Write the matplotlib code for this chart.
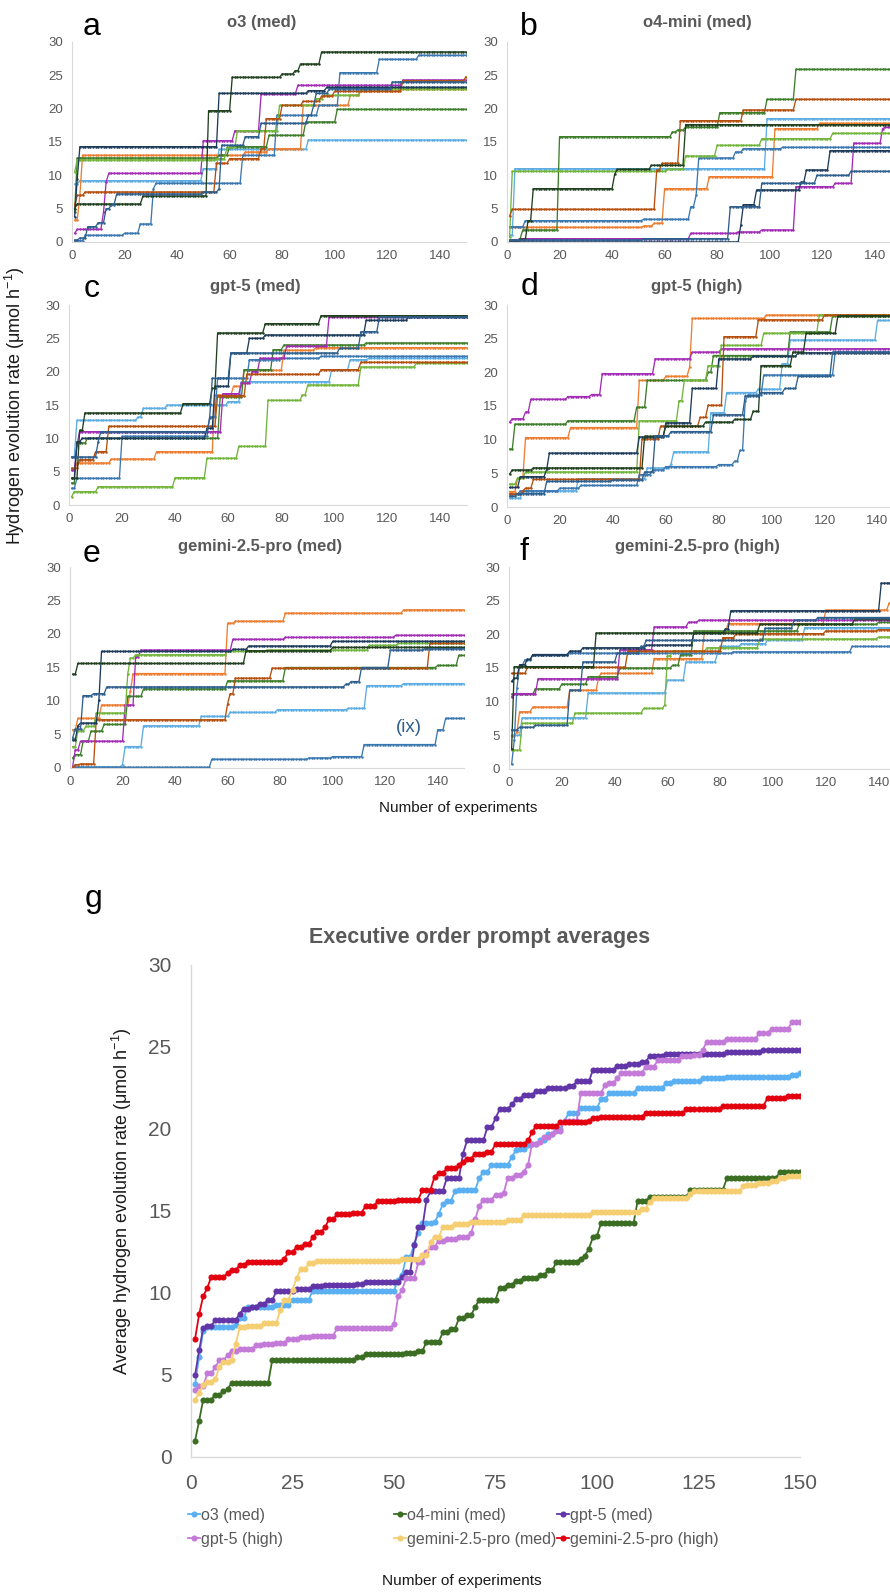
import numpy as np
import matplotlib
matplotlib.use('Agg')
import matplotlib.pyplot as plt
from matplotlib import font_manager as fm

plt.rcParams['font.family'] = ['Liberation Sans', 'DejaVu Sans']
plt.rcParams['mathtext.fontset'] = 'custom'
plt.rcParams['mathtext.rm'] = 'Liberation Sans'
plt.rcParams['mathtext.it'] = 'Liberation Sans:italic'

# ---------------- data: best-so-far breakpoints (experiment, value) ----------------
N_EXP = 150
panel_titles = ['o3 (med)', 'o4-mini (med)', 'gpt-5 (med)', 'gpt-5 (high)',
                'gemini-2.5-pro (med)', 'gemini-2.5-pro (high)']
panel_letters = ['a', 'b', 'c', 'd', 'e', 'f']
run_colors = ['#5DADE2', '#ED7D31', '#3E7D2A', '#3C78B0', '#A22DB5',
              '#72B43C', '#B4500F', '#1D3B5A', '#20401F', '#2F5F8C']

panel_a = [
    [(1, 8.7), (3, 9.2), (50, 11.0), (56, 13.9), (90, 15.3)],
    [(1, 3.3), (3, 7.0), (4, 13.0), (66, 13.5), (75, 14.0), (88, 20.5), (106, 22.0), (110, 22.6), (125, 22.9)],
    [(1, 4.5), (2, 12.6), (56, 13.0), (60, 14.3), (75, 16.0), (89, 18.0), (101, 19.9)],
    [(1, 0.2), (5, 1.0), (20, 1.3), (26, 2.7), (31, 8.0), (32, 8.8), (65, 13.0), (78, 19.0), (94, 20.5), (102, 25.4), (117, 27.4), (132, 28.0)],
    [(1, 1.3), (2, 1.9), (12, 4.5), (13, 9.0), (14, 10.3), (50, 15.2), (62, 16.7), (72, 22.2), (86, 23.5), (126, 24.3)],
    [(1, 10.5), (2, 12.3), (55, 12.5), (59, 14.2), (63, 16.7), (79, 20.5), (93, 21.5), (96, 22.0), (110, 23.0)],
    [(1, 5.5), (2, 7.0), (5, 7.5), (55, 11.8), (60, 12.5), (72, 14.0), (74, 18.5), (80, 20.5), (88, 21.1), (95, 21.9), (100, 22.6), (126, 24.2), (150, 24.8)],
    [(1, 3.8), (2, 9.5), (3, 14.3), (56, 22.3), (90, 22.7), (97, 23.2)],
    [(1, 5.0), (2, 5.7), (27, 6.9), (52, 19.7), (61, 24.7), (80, 25.2), (85, 25.7), (87, 26.7), (95, 28.5)],
    [(1, 0.3), (3, 0.6), (6, 2.3), (10, 2.9), (13, 5.0), (15, 5.6), (17, 7.2), (50, 7.5), (56, 8.0), (57, 14.5), (66, 15.8), (72, 17.8), (90, 19.0), (92, 20.5), (93, 22.3), (98, 23.0), (122, 24.0)],
]
panel_b = [
    [(1, 1.0), (3, 11.0), (99, 18.5)],
    [(1, 2.2), (52, 2.4), (56, 2.8), (60, 8.0), (77, 9.8), (102, 17.0), (119, 17.8)],
    [(1, 0.3), (5, 0.5), (6, 1.8), (20, 15.8), (63, 16.5), (65, 16.8), (68, 17.2), (81, 19.4), (99, 21.4), (110, 25.9)],
    [(1, 2.3), (7, 3.2), (52, 3.4), (70, 5.3), (72, 7.0), (73, 12.6), (87, 13.5), (90, 14.0), (105, 14.2)],
    [(1, 0.0), (2, 0.3), (5, 0.5), (70, 1.3), (88, 1.5), (97, 1.8), (110, 8.3), (125, 8.8), (132, 14.8), (143, 17.0), (144, 17.2)],
    [(1, 0.7), (2, 10.6), (61, 10.9), (68, 12.9), (80, 14.5), (97, 15.5), (124, 16.3)],
    [(1, 3.9), (2, 4.9), (57, 10.8), (59, 11.8), (66, 18.2), (90, 19.8), (110, 21.4)],
    [(1, 0.0), (89, 2.5), (90, 5.6), (95, 7.8), (112, 9.0), (114, 10.8), (123, 13.7)],
    [(1, 0.0), (5, 0.4), (8, 3.2), (10, 8.0), (41, 10.2), (42, 10.9), (55, 11.5), (68, 17.6)],
    [(1, 0.3), (52, 0.5), (85, 5.3), (97, 8.8), (118, 10.0), (131, 10.6)],
]
panel_c = [
    [(1, 7.2), (3, 12.7), (26, 13.2), (28, 14.5), (37, 15.0), (60, 15.5), (65, 18.5), (99, 20.3), (106, 21.8), (113, 22.0)],
    [(1, 5.2), (3, 6.3), (16, 6.9), (33, 8.0), (55, 16.5), (62, 17.8), (66, 20.2), (81, 23.2), (93, 23.6)],
    [(1, 3.3), (3, 9.3), (7, 10.0), (57, 16.2), (66, 20.3), (77, 23.3), (81, 24.0), (112, 24.3)],
    [(1, 2.5), (3, 4.0), (20, 10.3), (53, 13.2), (56, 19.0), (68, 21.8), (80, 22.0), (95, 22.3)],
    [(1, 5.2), (3, 9.0), (4, 11.0), (58, 16.7), (65, 18.3), (69, 20.0), (72, 22.0), (82, 23.8), (98, 28.2)],
    [(1, 1.25), (2, 2.0), (11, 2.75), (40, 4.1), (52, 7.0), (64, 8.8), (75, 15.7), (88, 16.5), (90, 18.0), (110, 20.7), (131, 21.3)],
    [(1, 5.5), (4, 6.8), (10, 8.0), (15, 11.8), (56, 16.4), (67, 19.6), (95, 20.3), (110, 21.4)],
    [(1, 4.0), (3, 9.5), (5, 10.0), (52, 11.5), (55, 17.8), (61, 22.8), (68, 25.0), (74, 25.5), (112, 27.7), (128, 28.2)],
    [(1, 4.0), (4, 11.2), (6, 13.8), (43, 15.2), (54, 17.5), (56, 25.8), (74, 27.2), (95, 28.4)],
    [(1, 7.2), (11, 9.5), (12, 11.0), (53, 13.0), (54, 19.0), (61, 22.8), (102, 23.5), (110, 26.0), (117, 28.2)],
]
panel_d = [
    [(1, 1.3), (6, 2.4), (27, 4.2), (53, 5.8), (62, 6.4), (63, 8.2), (77, 14.0), (83, 17.0), (95, 17.5), (104, 21.3), (107, 24.8), (140, 27.7)],
    [(1, 2.3), (4, 4.3), (7, 10.3), (24, 11.8), (50, 18.8), (60, 19.4), (69, 20.8), (70, 28.0), (98, 28.5)],
    [(1, 8.6), (3, 12.3), (23, 12.8), (49, 14.8), (53, 18.8), (76, 20.0), (78, 22.5), (107, 26.0), (123, 28.4)],
    [(1, 1.9), (5, 2.4), (20, 2.8), (28, 3.2), (50, 4.8), (55, 5.5), (60, 6.0), (80, 6.3), (86, 6.8), (88, 8.4), (90, 15.7), (91, 16.6), (97, 19.6), (124, 23.0)],
    [(1, 12.6), (2, 13.1), (7, 14.1), (9, 16.0), (23, 16.4), (32, 16.7), (36, 19.8), (56, 22.0), (70, 23.0), (81, 23.5)],
    [(1, 3.4), (4, 4.3), (7, 5.2), (50, 12.8), (65, 15.8), (67, 18.8), (76, 21.0), (81, 24.0), (97, 25.8), (118, 28.5)],
    [(1, 1.9), (6, 2.4), (7, 2.8), (10, 4.1), (51, 10.1), (58, 12.0), (73, 13.3), (76, 15.1), (82, 25.3), (95, 27.8), (120, 28.5)],
    [(1, 2.9), (5, 4.5), (15, 5.6), (16, 8.0), (50, 10.4), (60, 12.5), (70, 17.6), (80, 22.0), (93, 22.4), (110, 22.9)],
    [(1, 4.9), (2, 5.5), (10, 5.8), (52, 10.5), (60, 12.0), (75, 12.6), (86, 13.0), (93, 14.2), (96, 21.0), (108, 23.0), (113, 25.8), (125, 28.4)],
    [(1, 1.6), (4, 2.0), (15, 3.8), (40, 4.0), (52, 5.2), (56, 10.6), (62, 11.2), (78, 13.7), (90, 16.5), (96, 17.0), (105, 17.6), (110, 19.4), (123, 23.0)],
]
panel_e = [
    [(1, 0.15), (20, 0.5), (21, 3.2), (28, 6.3), (50, 7.7), (61, 8.3), (79, 8.7), (106, 8.9), (113, 12.3), (127, 12.6)],
    [(1, 5.7), (3, 7.4), (12, 9.4), (23, 11.5), (24, 14.1), (60, 21.6), (63, 21.9), (82, 23.1), (127, 23.6)],
    [(1, 1.5), (2, 2.0), (5, 4.0), (8, 5.5), (13, 6.5), (22, 10.7), (28, 11.8), (60, 13.0), (82, 15.0), (140, 15.3), (148, 16.8)],
    [(1, 0.1), (54, 1.3), (91, 1.5), (100, 1.7), (112, 3.5), (140, 5.7), (143, 7.4)],
    [(1, 0.2), (2, 2.7), (4, 4.0), (21, 9.4), (25, 16.6), (27, 17.6), (62, 19.2), (82, 19.5), (124, 19.8)],
    [(1, 3.2), (3, 5.5), (6, 6.2), (10, 8.2), (22, 14.1), (23, 16.4), (25, 16.9), (60, 17.4), (75, 17.6), (114, 18.3), (125, 18.6)],
    [(1, 0.1), (2, 0.5), (4, 0.6), (10, 7.2), (60, 9.6), (61, 11.1), (63, 13.4), (77, 14.9), (137, 18.6)],
    [(1, 4.2), (3, 6.3), (4, 6.7), (11, 10.1), (12, 17.4), (62, 17.7), (68, 18.2), (100, 18.9)],
    [(1, 14.0), (3, 15.6), (67, 17.5), (100, 18.0)],
    [(1, 4.5), (2, 5.8), (5, 10.8), (9, 11.1), (14, 12.1), (105, 12.5), (107, 12.9), (111, 15.0), (122, 17.6), (135, 17.8)],
]
panel_f = [
    [(1, 5.0), (5, 7.6), (30, 11.3), (60, 13.2), (67, 15.9), (79, 17.2), (80, 18.2), (88, 18.6), (98, 19.2), (112, 21.0)],
    [(1, 4.9), (3, 5.5), (4, 8.5), (9, 9.2), (23, 11.7), (34, 13.7), (35, 14.2), (55, 16.4), (74, 20.4), (83, 21.6), (120, 23.6), (144, 24.6)],
    [(1, 11.1), (10, 11.9), (20, 12.6), (30, 13.7), (42, 15.0), (62, 15.4), (65, 17.0), (70, 20.5), (110, 21.5), (140, 21.8)],
    [(1, 0.7), (2, 4.3), (3, 12.0), (4, 15.3), (6, 16.2), (9, 16.9), (23, 17.2), (85, 17.4), (130, 18.2)],
    [(1, 10.7), (2, 11.2), (11, 13.4), (42, 17.7), (55, 21.1), (68, 21.8), (72, 22.1)],
    [(1, 2.8), (5, 6.8), (25, 8.3), (51, 9.0), (59, 9.5), (60, 16.8), (62, 17.5), (75, 18.0), (95, 19.3), (140, 19.6)],
    [(1, 14.2), (7, 15.1), (45, 17.5), (81, 19.5), (86, 20.1), (120, 20.5), (140, 20.7)],
    [(1, 13.0), (2, 13.5), (4, 15.5), (7, 16.3), (9, 17.0), (23, 17.5), (28, 18.0), (52, 18.4), (70, 20.2), (82, 20.8), (84, 23.5), (141, 27.6)],
    [(1, 3.0), (2, 15.2), (33, 20.2), (95, 21.5), (131, 22.3)],
    [(1, 5.8), (4, 6.2), (10, 6.5), (23, 11.7), (28, 15.9), (41, 17.2), (50, 18.2), (52, 19.1), (97, 20.9), (108, 22.1), (117, 22.5)],
]
panels = [panel_a, panel_b, panel_c, panel_d, panel_e, panel_f]

avg_labels = ['o3 (med)', 'o4-mini (med)', 'gpt-5 (med)', 'gpt-5 (high)',
              'gemini-2.5-pro (med)', 'gemini-2.5-pro (high)']
avg_colors = ['#5AB0F2', '#3B6E22', '#6236A8', '#C47AD8', '#F5CE72', '#E3000F']
avg_o3 = [(1, 4.45), (2, 6.1), (3, 7.7), (4, 7.95), (11, 8.05), (12, 8.45), (14, 9.15), (21, 9.25), (25, 9.6), (30, 10.15),
          (51, 10.8), (52, 11.1), (53, 12.2), (55, 13.0), (56, 13.65), (57, 14.25), (60, 14.3), (61, 14.8), (62, 15.4), (63, 15.6),
          (65, 16.2), (66, 16.3), (71, 17.0), (72, 17.4), (74, 17.8), (79, 18.3), (80, 18.7), (81, 18.8), (83, 19.0), (84, 19.1),
          (86, 19.3), (88, 19.7), (90, 20.0), (92, 20.5), (93, 20.95), (96, 21.3), (101, 21.8), (103, 22.2), (110, 22.5), (117, 22.8),
          (119, 22.9), (126, 23.1), (132, 23.2), (148, 23.3), (150, 23.4)]
avg_o4mini = [(1, 1.0), (2, 2.2), (3, 3.5), (6, 3.8), (8, 4.0), (9, 4.15), (10, 4.5), (20, 5.9), (41, 6.1), (43, 6.27),
              (53, 6.36), (56, 6.48), (58, 7.0), (62, 7.6), (64, 7.8), (66, 8.45), (68, 8.65), (70, 9.15), (71, 9.6), (76, 10.3),
              (78, 10.5), (80, 10.75), (82, 10.9), (86, 11.1), (88, 11.4), (90, 11.9), (96, 12.1), (97, 12.25), (98, 12.7), (99, 13.4),
              (100, 13.5), (101, 14.25), (110, 15.6), (113, 15.85), (123, 16.3), (132, 17.0), (145, 17.35)]
avg_gpt5med = [(1, 5.0), (2, 6.5), (3, 7.85), (4, 8.0), (6, 8.35), (12, 8.75), (13, 9.05), (15, 9.15), (17, 9.35), (19, 9.55),
               (21, 10.1), (26, 10.25), (30, 10.4), (33, 10.5), (41, 10.56), (43, 10.7), (52, 10.95), (53, 11.3), (55, 12.9), (56, 14.0),
               (58, 15.7), (59, 16.2), (63, 17.0), (67, 18.5), (68, 19.3), (73, 20.1), (75, 20.65), (76, 21.2), (79, 21.5), (80, 21.8),
               (82, 22.1), (85, 22.3), (88, 22.5), (93, 22.6), (95, 22.9), (99, 23.6), (105, 23.85), (108, 23.95), (111, 24.1), (113, 24.45),
               (117, 24.6), (132, 24.7), (141, 24.8)]
avg_gpt5high = [(1, 4.1), (2, 4.3), (4, 5.1), (6, 5.5), (7, 5.9), (9, 6.2), (10, 6.45), (12, 6.6), (16, 6.8), (18, 6.9),
                (21, 6.95), (24, 7.2), (27, 7.3), (30, 7.4), (36, 7.85), (50, 8.1), (51, 9.8), (52, 10.2), (53, 10.9), (56, 11.9),
                (58, 12.5), (59, 12.8), (61, 13.2), (63, 13.3), (66, 13.4), (69, 13.65), (70, 14.5), (71, 15.3), (72, 15.7), (75, 16.0),
                (77, 16.1), (78, 17.0), (80, 17.2), (82, 17.4), (83, 17.8), (84, 19.1), (86, 19.2), (87, 19.5), (89, 19.7), (90, 19.9),
                (92, 20.5), (96, 22.2), (102, 22.7), (103, 22.8), (105, 23.1), (106, 23.4), (112, 23.8), (115, 24.2), (121, 24.45),
                (124, 24.5), (126, 24.8), (127, 25.3), (132, 25.5), (140, 25.85), (143, 26.1), (148, 26.5)]
avg_gemmed = [(1, 3.5), (2, 3.9), (3, 4.4), (4, 4.6), (6, 4.75), (7, 5.5), (8, 5.8), (10, 5.9), (11, 6.9), (12, 7.9),
              (14, 8.0), (18, 8.15), (22, 8.95), (23, 9.6), (25, 10.2), (26, 10.9), (27, 11.45), (29, 11.8), (31, 11.95), (52, 12.05),
              (57, 12.3), (59, 13.1), (60, 13.4), (62, 14.0), (65, 14.2), (69, 14.3), (78, 14.45), (82, 14.75), (99, 14.95), (111, 15.15),
              (113, 15.55), (114, 15.8), (123, 16.05), (124, 16.2), (136, 16.5), (137, 16.6), (140, 16.7), (143, 16.85), (145, 17.0), (147, 17.15)]
avg_gemhigh = [(1, 7.2), (2, 8.7), (3, 9.8), (4, 10.3), (5, 11.0), (9, 11.2), (10, 11.4), (12, 11.7), (14, 11.9), (23, 12.1),
               (24, 12.5), (26, 12.8), (28, 13.0), (30, 13.4), (31, 13.7), (33, 14.0), (34, 14.5), (36, 14.8), (40, 14.9), (43, 15.3),
               (46, 15.6), (51, 15.7), (57, 16.3), (60, 17.1), (61, 17.3), (63, 17.6), (66, 17.8), (67, 18.0), (68, 18.2), (70, 18.5),
               (73, 18.6), (75, 19.1), (83, 19.3), (84, 19.8), (85, 20.2), (91, 20.4), (98, 20.5), (99, 20.65), (101, 20.75), (112, 20.95),
               (122, 21.2), (131, 21.4), (142, 21.9), (147, 22.0)]
avg_series = [avg_o3, avg_o4mini, avg_gpt5med, avg_gpt5high, avg_gemmed, avg_gemhigh]

small_xticks = [0, 20, 40, 60, 80, 100, 120, 140]
small_yticks = [0, 5, 10, 15, 20, 25, 30]
avg_xticks = [0, 25, 50, 75, 100, 125, 150]
avg_yticks = [0, 5, 10, 15, 20, 25, 30]


def hold_steps(bp):
    """Best-so-far value at every experiment, held from the listed change points."""
    xs = np.arange(1, N_EXP + 1)
    bx = np.array([p[0] for p in bp])
    by = np.array([p[1] for p in bp])
    idx = np.clip(np.searchsorted(bx, xs, side='right') - 1, 0, None)
    return xs, by[idx]


# narrow face for the bottom legend / axis title, if one is installed
_names = {f.name for f in fm.fontManager.ttflist}
NARROW = None
for cand in ['Liberation Sans Narrow', 'Arial Narrow']:
    if cand in _names:
        NARROW = cand
        break
if NARROW:
    narrow_family, narrow_scale = [NARROW, 'DejaVu Sans'], 1.0
else:
    narrow_family, narrow_scale = ['Liberation Sans', 'DejaVu Sans'], 0.885

# ---------------- layout ----------------
W, H = 890, 1593
fig = plt.figure(figsize=(W / 100, H / 100), dpi=100)
GRAY = '#595959'
SPINE = '#D9D9D9'


def add_ax(left, top, right, bottom):
    return fig.add_axes([left / W, 1 - bottom / H, (right - left) / W, (bottom - top) / H])


small_boxes = [(72, 42, 466, 242), (507, 42, 901, 242),
               (69, 305, 467, 505), (507, 305, 904, 507),
               (70, 567, 464, 768), (509, 567, 905, 769)]
title_pos = [(262, 22), (697, 22), (255, 287), (697, 287), (260, 547), (697, 547)]
letter_pos = [(92, 35), (529, 35), (92, 297), (529, 295), (92, 562), (524, 560)]

for k, (box, runs) in enumerate(zip(small_boxes, panels)):
    ax = add_ax(*box)
    for j, bp in enumerate(runs):
        xs, ys = hold_steps(bp)
        ax.plot(xs, ys, color=run_colors[j], lw=0.95, marker='o', ms=1.8, mew=0)
    ax.set_xlim(0, 150)
    ax.set_ylim(0, 30)
    ax.set_xticks(small_xticks)
    ax.set_yticks(small_yticks)
    ax.tick_params(length=0, labelsize=9.5, labelcolor=GRAY)
    ax.tick_params(axis='x', pad=6)
    ax.tick_params(axis='y', pad=6.5)
    for s in ['top', 'right']:
        ax.spines[s].set_visible(False)
    for s in ['left', 'bottom']:
        ax.spines[s].set_color(SPINE)
        ax.spines[s].set_linewidth(0.8)
    ax.patch.set_alpha(0)
    tx, ty = title_pos[k]
    fig.text(tx / W, 1 - ty / H, panel_titles[k], ha='center', va='center',
             fontsize=12, fontweight='bold', color=GRAY)
    lx, ly = letter_pos[k]
    fig.text(lx / W, 1 - ly / H, panel_letters[k], ha='center', va='baseline', fontsize=23)

fig.axes[4].text(129, 6.1, '(ix)', color='#2F5F8C', fontsize=13.5, ha='center', va='center')

fig.text(15 / W, 1 - 406 / H, 'Hydrogen evolution rate (μmol h$^{-1}$)', rotation=90,
         ha='center', va='center', fontsize=13, color='#1a1a1a')
fig.text(458 / W, 1 - 808 / H, 'Number of experiments', ha='center', va='center',
         fontsize=11, color='#1a1a1a')

# ---------------- panel g ----------------
fig.text(94 / W, 1 - 907 / H, 'g', ha='center', va='baseline', fontsize=23)
fig.text(480 / W, 1 - 937 / H, 'Executive order prompt averages', ha='center', va='center',
         fontsize=15.5, fontweight='bold', color=GRAY)
axg = add_ax(191, 965, 800, 1457)
handles = []
for bp, col, lab in zip(avg_series, avg_colors, avg_labels):
    xs, ys = hold_steps(bp)
    h, = axg.plot(xs, ys, color=col, lw=1.3, marker='o', ms=4.4, mew=0, label=lab)
    handles.append(h)
axg.set_xlim(0, 150)
axg.set_ylim(0, 30)
axg.set_xticks(avg_xticks)
axg.set_yticks(avg_yticks)
axg.tick_params(length=0, labelsize=15, labelcolor=GRAY)
axg.tick_params(axis='x', pad=12)
axg.tick_params(axis='y', pad=14)
for s in ['top', 'right']:
    axg.spines[s].set_visible(False)
for s in ['left', 'bottom']:
    axg.spines[s].set_color(SPINE)
    axg.spines[s].set_linewidth(1.0)

leg_prop = fm.FontProperties(family=narrow_family, size=13 * narrow_scale)
legend_cols = [(188, [0, 3]), (394, [1, 4]), (557, [2, 5])]
for x0, idxs in legend_cols:
    fig.legend([handles[i] for i in idxs], [avg_labels[i] for i in idxs],
               loc='upper left', bbox_to_anchor=(x0 / W, 1 - 1508 / H), ncol=1, frameon=False,
               prop=leg_prop, handlelength=0.75, handletextpad=0.05,
               labelspacing=0.55, labelcolor=GRAY, borderpad=0, borderaxespad=0)

fig.text(122 / W, 1 - 1201 / H, 'Average hydrogen evolution rate (μmol h$^{-1}$)', rotation=90,
         ha='center', va='center', fontsize=13, color='#1a1a1a')
fig.text(462 / W, 1 - 1581 / H, 'Number of experiments', ha='center', va='center',
         fontproperties=fm.FontProperties(family=narrow_family, size=12.5 * narrow_scale),
         color='#1a1a1a')

fig.savefig('out.png', dpi=100)
